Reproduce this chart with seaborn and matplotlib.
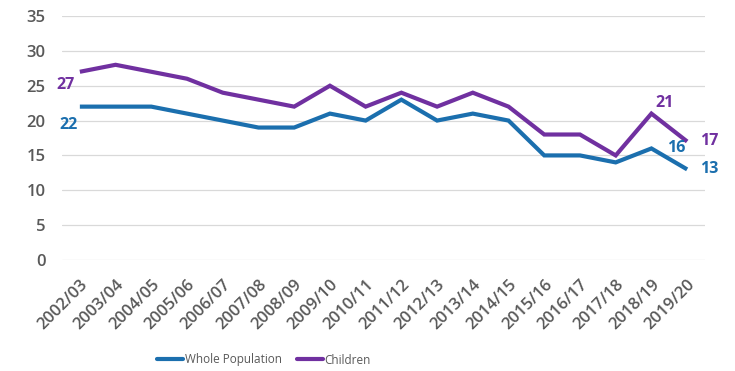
import matplotlib
matplotlib.use("Agg")
import matplotlib.pyplot as plt
import seaborn as sns
import pandas as pd

years = ["2002/03", "2003/04", "2004/05", "2005/06", "2006/07", "2007/08",
         "2008/09", "2009/10", "2010/11", "2011/12", "2012/13", "2013/14",
         "2014/15", "2015/16", "2016/17", "2017/18", "2018/19", "2019/20"]
whole_population = [22, 22, 22, 21, 20, 19, 19, 21, 20, 23, 20, 21, 20, 15, 15, 14, 16, 13]
children = [27, 28, 27, 26, 24, 23, 22, 25, 22, 24, 22, 24, 22, 18, 18, 15, 21, 17]
y_ticks = [0, 5, 10, 15, 20, 25, 30, 35]

BLUE = "#1b6fae"
PURPLE = "#7030a0"
GREY = "#595959"

sns.set_theme(style="white")
plt.rcParams["font.family"] = ["Open Sans", "DejaVu Sans"]

df = pd.DataFrame({
    "idx": list(range(len(years))) * 2,
    "value": whole_population + children,
    "series": ["Whole Population"] * len(years) + ["Children"] * len(years),
})

fig = plt.figure(figsize=(7.35, 3.71), dpi=100)
ax = fig.add_axes([62 / 735, 1 - 260 / 371, (705 - 62) / 735, (260 - 16) / 371])

sns.lineplot(data=df, x="idx", y="value", hue="series",
             palette={"Whole Population": BLUE, "Children": PURPLE},
             linewidth=3.0, ax=ax, legend=False, sort=False)
for line in ax.lines:
    line.set_solid_joinstyle("miter")
    line.set_solid_capstyle("butt")

ax.set_xlim(-0.5, len(years) - 0.5)
ax.set_ylim(0, 35)
ax.set_yticks(y_ticks)
ax.set_xticks(range(len(years)))
ax.set_xticklabels(years, rotation=45, ha="right", rotation_mode="anchor")
ax.tick_params(axis="y", pad=12)
ax.tick_params(axis="x", pad=12)
ax.tick_params(axis="both", colors=GREY, labelsize=12, length=0)
for lbl in ax.get_xticklabels() + ax.get_yticklabels():
    lbl.set_color(GREY)
    lbl.set_fontweight("semibold")
ax.yaxis.grid(True, color="#d9d9d9", linewidth=0.9)
ax.xaxis.grid(False)
for s in ax.spines.values():
    s.set_visible(False)
ax.set_xlabel("")
ax.set_ylabel("")

# value labels, offsets given in pixels
lbl_kw = dict(fontsize=11.5, fontweight="bold", textcoords="offset pixels")
last = len(years) - 1
ax.annotate(str(children[0]), (0, children[0]), xytext=(-5, -13),
            ha="right", va="center", color=PURPLE, **lbl_kw)
ax.annotate(str(whole_population[0]), (0, whole_population[0]), xytext=(-2, -18),
            ha="right", va="center", color=BLUE, **lbl_kw)
ax.annotate(str(children[16]), (16, children[16]), xytext=(4, 11),
            ha="left", va="center", color=PURPLE, **lbl_kw)
ax.annotate(str(whole_population[16]), (16, whole_population[16]), xytext=(16, 0),
            ha="left", va="center", color=BLUE, **lbl_kw)
ax.annotate(str(children[last]), (last, children[last]), xytext=(13, 0),
            ha="left", va="center", color=PURPLE, **lbl_kw)
ax.annotate(str(whole_population[last]), (last, whole_population[last]), xytext=(13, 0),
            ha="left", va="center", color=BLUE, **lbl_kw)

handles = [plt.Line2D([], [], color=BLUE, linewidth=3.0),
           plt.Line2D([], [], color=PURPLE, linewidth=3.0)]
fig.legend(handles, ["Whole Population", "Children"], loc="center",
           bbox_to_anchor=(264 / 735, 1 - 360 / 371), ncol=2, frameon=False,
           fontsize=8.5, labelcolor=GREY, handlelength=2.2, handletextpad=0.1,
           columnspacing=1.3)

fig.savefig("out.png", dpi=100)
